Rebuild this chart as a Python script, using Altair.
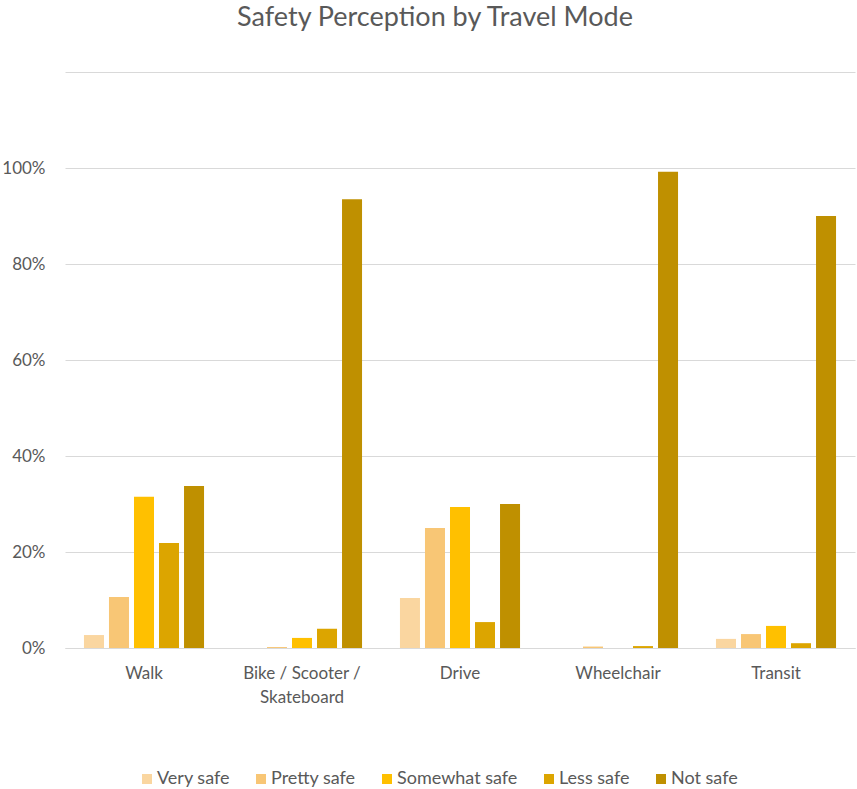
import altair as alt
import pandas as pd

modes = ["Walk", "Bike / Scooter / Skateboard", "Drive", "Wheelchair", "Transit"]
levels = ["Very safe", "Pretty safe", "Somewhat safe", "Less safe", "Not safe"]
colors = ["#FAD6A0", "#F8C675", "#FFC000", "#DCA500", "#BF9000"]

very_safe = [0.027, 0.0, 0.104, 0.0, 0.019]
pretty_safe = [0.106, 0.002, 0.250, 0.003, 0.029]
somewhat_safe = [0.315, 0.021, 0.294, 0.0, 0.046]
less_safe = [0.219, 0.040, 0.054, 0.004, 0.010]
not_safe = [0.3375, 0.935, 0.300, 0.992, 0.900]

series = [very_safe, pretty_safe, somewhat_safe, less_safe, not_safe]
rows = []
for lvl, vals in zip(levels, series):
    for m, v in zip(modes, vals):
        rows.append({"Mode": m, "Safety": lvl, "Share": v})
df = pd.DataFrame(rows)

grey = "#595959"
FONT = "Lato"

chart = alt.Chart(df).mark_bar().encode(
    x=alt.X("Mode:N", sort=modes, title=None,
            scale=alt.Scale(paddingInner=0.24, paddingOuter=0.12),
            axis=alt.Axis(labelAngle=0, ticks=False, domainColor="#D9D9D9",
                          labelColor=grey, labelFont=FONT, labelFontSize=17,
                          labelPadding=17, labelLineHeight=24,
                          labelExpr="datum.value == 'Bike / Scooter / Skateboard' ? ['Bike / Scooter /', 'Skateboard'] : datum.value")),
    xOffset=alt.XOffset("Safety:N", sort=levels,
                        scale=alt.Scale(paddingInner=0.2, paddingOuter=0)),
    y=alt.Y("Share:Q", title=None,
            scale=alt.Scale(domain=[0, 1.2], nice=False),
            axis=alt.Axis(values=[0, 0.2, 0.4, 0.6, 0.8, 1.0, 1.2], format=".0%",
                          labelExpr="datum.value > 1.1 ? '' : datum.label",
                          domain=False, ticks=False, gridColor="#D9D9D9",
                          labelColor=grey, labelFont=FONT, labelFontSize=17,
                          labelPadding=20)),
    color=alt.Color("Safety:N", sort=levels,
                    scale=alt.Scale(domain=levels, range=colors),
                    legend=alt.Legend(title=None, orient="none", direction="horizontal",
                                      legendX=73, legendY=698, symbolType="square",
                                      symbolSize=100, symbolStrokeWidth=0,
                                      labelColor=grey, labelFont=FONT, labelFontSize=18,
                                      columnPadding=22, symbolOffset=0, labelOffset=1)),
).properties(
    width=790, height=576,
    title=alt.TitleParams("Safety Perception by Travel Mode", font=FONT, fontSize=27,
                          fontWeight="normal", color=grey, anchor="middle",
                          offset=40, dx=-25),
    autosize=alt.AutoSizeParams(type="none"),
    padding={"left": 65, "top": 72, "right": 2, "bottom": 141},
).configure_view(stroke=None)

chart.save("out.html", embed_options={"renderer": "svg", "actions": False})
